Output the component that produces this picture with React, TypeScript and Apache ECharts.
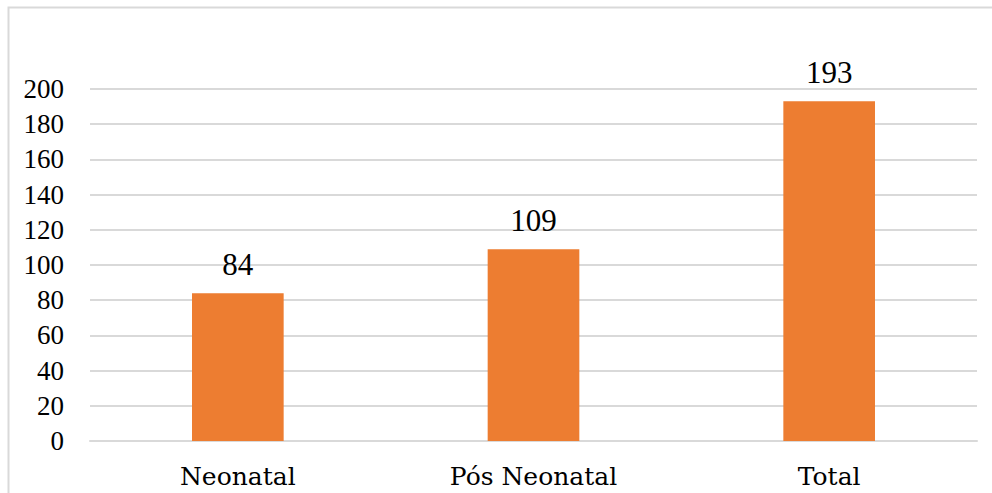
import React, { useEffect, useRef } from "react";
import * as echarts from "echarts";

const categories = ["Neonatal", "Pós Neonatal", "Total"];
const values = [84, 109, 193];
const yTicks = { min: 0, max: 200, interval: 20 };

const CAT_FONT = "DejaVu Serif";
const NUM_FONT = "Liberation Serif";

export default function App() {
  const ref = useRef<HTMLDivElement>(null);
  useEffect(() => {
    if (!ref.current) return;
    const chart = echarts.init(ref.current, null, { renderer: "svg" });
    chart.setOption({
      animation: false,
      graphic: [
        {
          type: "rect",
          shape: { x: 8.5, y: 7.5, width: 1000, height: 600 },
          style: { fill: "none", stroke: "#d9d9d9", lineWidth: 2 },
          silent: true,
        },
      ],
      grid: { left: 90, right: 15, top: 89, bottom: 52, containLabel: false },
      xAxis: {
        type: "category",
        data: categories,
        axisLine: { show: true, lineStyle: { color: "#d9d9d9", width: 2 } },
        axisTick: { show: false },
        axisLabel: { color: "#000", fontFamily: CAT_FONT, fontSize: 25, margin: 23 },
      },
      yAxis: {
        type: "value",
        min: yTicks.min,
        max: yTicks.max,
        interval: yTicks.interval,
        axisLine: { show: false },
        axisTick: { show: false },
        splitLine: { lineStyle: { color: "#d9d9d9", width: 2 } },
        axisLabel: { color: "#000", fontFamily: NUM_FONT, fontSize: 27, margin: 26 },
      },
      series: [
        {
          type: "bar",
          data: values,
          barWidth: "31%",
          itemStyle: { color: "#ED7D31" },
          label: {
            show: true,
            position: "top",
            distance: 13,
            color: "#000",
            fontFamily: NUM_FONT,
            fontSize: 31,
          },
        },
      ],
    });
    return () => chart.dispose();
  }, []);
  return <div ref={ref} style={{ width: 992, height: 493, position: "absolute", left: 0, top: 0 }} />;
}
